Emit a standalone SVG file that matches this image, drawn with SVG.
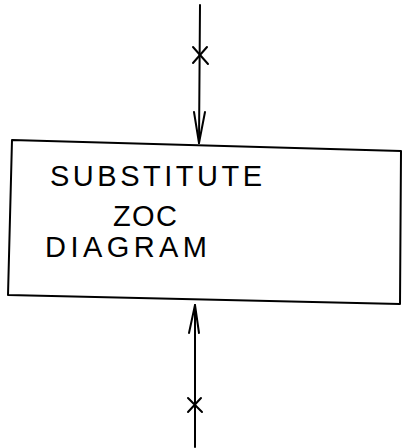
<svg xmlns="http://www.w3.org/2000/svg" width="402" height="448" viewBox="0 0 402 448">
<style>
.ln{fill:none;stroke:#000;stroke-width:2;stroke-linecap:round;stroke-linejoin:round}
.t{font-family:"Liberation Sans",Arial,sans-serif;font-size:29px;fill:#000}
</style>
<rect width="402" height="448" fill="#fff"/>
<g id="connectors">
<g id="c-top">
<path class="ln" d="M200,5 L199,143"/>
<path class="ln" d="M194,112 L199,143 L205,112"/>
<path class="ln" d="M193,47 L208,64 M207,47 L193,63"/>
</g>
<g id="c-bottom">
<path class="ln" d="M195,305 L195,447"/>
<path class="ln" d="M189,333 L195,305 L199,333"/>
<path class="ln" d="M188,398 L202,412 M201,398 L188,412"/>
</g>
</g>
<g id="node-box">
<polygon class="ln" points="12,140 401,151 400,304 8,295"/>
<text class="t" x="50" y="186" textLength="212" lengthAdjust="spacing">SUBSTITUTE</text>
<text class="t" x="113" y="226" textLength="64" lengthAdjust="spacing">ZOC</text>
<text class="t" x="45" y="257" textLength="162" lengthAdjust="spacing">DIAGRAM</text>
</g>
</svg>
